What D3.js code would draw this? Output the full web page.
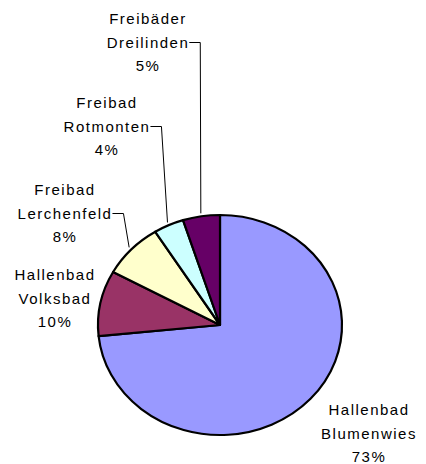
<!DOCTYPE html>
<html>
<head>
<meta charset="utf-8">
<script src="https://cdn.jsdelivr.net/npm/d3@7"></script>
<style>
  body { margin: 0; background: #fff; }
  text { font-family: "Liberation Sans", Arial, sans-serif; font-size: 15px; letter-spacing: 1.5px; fill: #000; }
</style>
</head>
<body>
<script>
var svgWidth = 426;
var svgHeight = 464;

// Data
var names = ["Hallenbad Blumenwies", "Hallenbad Volksbad", "Freibad Lerchenfeld", "Freibad Rotmonten", "Freibäder Dreilinden"];
var shares = [73.4, 9.6, 8.1, 4.0, 4.9];
var pctLabels = ["73%", "10%", "8%", "4%", "5%"];
var colors = ["#9999FF", "#993366", "#FFFFCC", "#CCFFFF", "#660066"];

var cx = 220, cy = 325;
var ry = 110, rx = 122;

// label layout: centre x, first baseline y, and optional leader
var labelPos = [
  { x: 369, y: 415 },
  { x: 55, y: 280 },
  { x: 65, y: 195, leader: true },
  { x: 107, y: 108, leader: true },
  { x: 148, y: 24, leader: true }
];

var svg = d3.select("body")
  .append("svg")
  .attr("width", svgWidth)
  .attr("height", svgHeight);

var pie = d3.pie().sort(null).value(d => d);
var arcs = pie(shares);

var arc = d3.arc().innerRadius(0).outerRadius(ry);

var pieGroup = svg.append("g")
  .attr("transform", `translate(${cx}, ${cy}) scale(${rx / ry}, 1)`);

pieGroup.selectAll("path")
  .data(arcs)
  .enter()
  .append("path")
  .attr("d", arc)
  .attr("fill", (d, i) => colors[i])
  .attr("stroke", "#000")
  .attr("stroke-width", 2.2)
  .attr("stroke-linejoin", "round")
  .attr("vector-effect", "non-scaling-stroke");

var lineH = 23.5;

arcs.forEach(function(d, i) {
  var p = labelPos[i];
  var words = names[i].split(" ");
  var lines = [words[0], words[1], pctLabels[i]];
  var t = svg.append("text").attr("text-anchor", "middle");
  lines.forEach(function(l, k) {
    t.append("tspan")
      .attr("x", p.x)
      .attr("y", p.y + k * lineH)
      .text(l);
  });

  if (p.leader) {
    // right edge of the second line
    var tsp = t.selectAll("tspan").nodes()[1];
    var w = tsp.getComputedTextLength();
    var x0 = p.x + w / 2;
    var y0 = p.y + lineH - 5;
    var mid = (d.startAngle + d.endAngle) / 2;
    var ex = cx + (rx + 3) * Math.sin(mid);
    var ey = cy - (ry + 3) * Math.cos(mid);
    svg.append("polyline")
      .attr("points", [[x0, y0], [x0 + 11, y0], [ex, ey]].map(q => q.join(",")).join(" "))
      .attr("fill", "none")
      .attr("stroke", "#000")
      .attr("stroke-width", 1);
  }
});
</script>
</body>
</html>
